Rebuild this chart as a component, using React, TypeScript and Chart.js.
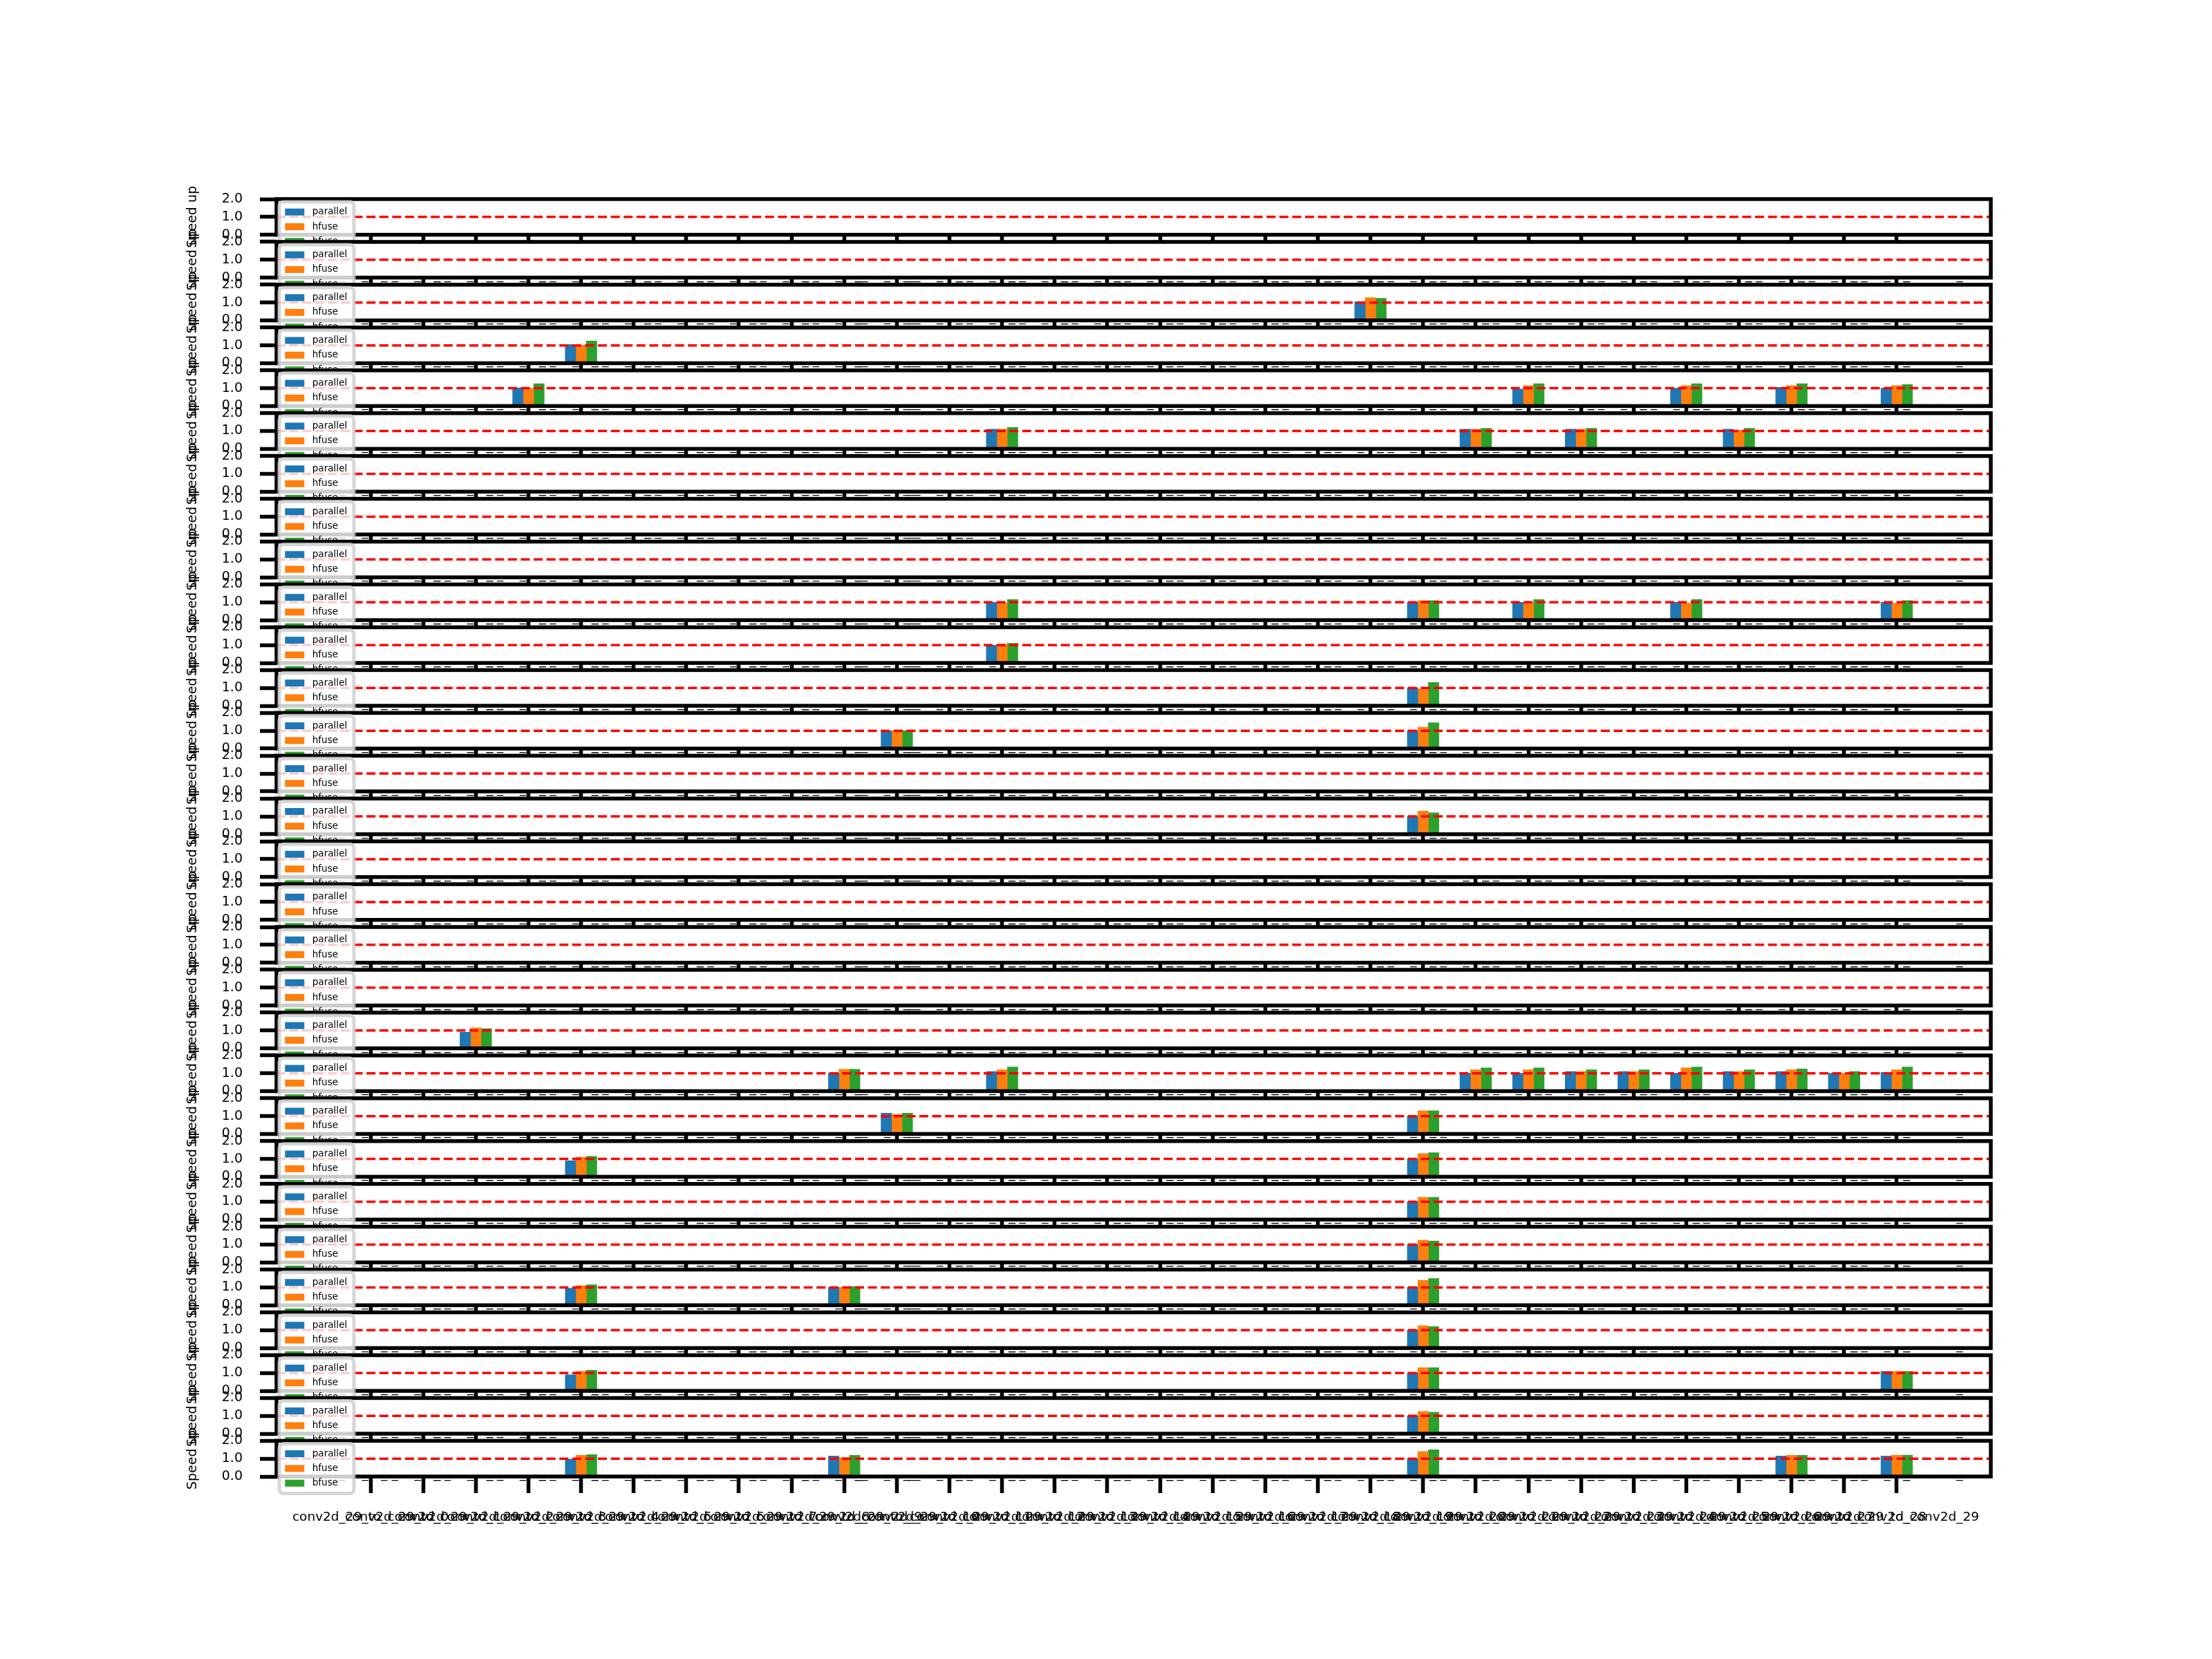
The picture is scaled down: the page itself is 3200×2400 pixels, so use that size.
import React, { useEffect, useRef } from "react";
import { Chart, registerables } from "chart.js";

Chart.register(...registerables);

// ---------------- data ----------------
const seriesNames = ["parallel", "hfuse", "bfuse"];
const categoryLabels = [
  "conv2d_29_to_conv2d_0", "conv2d_29_to_conv2d_1", "conv2d_29_to_conv2d_2", "conv2d_29_to_conv2d_3",
  "conv2d_29_to_conv2d_4", "conv2d_29_to_conv2d_5", "conv2d_29_to_conv2d_6", "conv2d_29_to_conv2d_7",
  "conv2d_29_to_conv2d_8", "conv2d_29_to_conv2d_9", "conv2d_29_to_conv2d_10", "conv2d_29_to_conv2d_11",
  "conv2d_29_to_conv2d_12", "conv2d_29_to_conv2d_13", "conv2d_29_to_conv2d_14", "conv2d_29_to_conv2d_15",
  "conv2d_29_to_conv2d_16", "conv2d_29_to_conv2d_17", "conv2d_29_to_conv2d_18", "conv2d_29_to_conv2d_19",
  "conv2d_29_to_conv2d_20", "conv2d_29_to_conv2d_21", "conv2d_29_to_conv2d_22", "conv2d_29_to_conv2d_23",
  "conv2d_29_to_conv2d_24", "conv2d_29_to_conv2d_25", "conv2d_29_to_conv2d_26", "conv2d_29_to_conv2d_27",
  "conv2d_29_to_conv2d_28", "conv2d_29_to_conv2d_29",
];
const yTickValues = [0, 1, 2];
const baselineSpeedup = 1.0;
const yAxisTitle = "Speed up";

// one entry per bar group: subplot row, category index, three speedups
const barSubplot = [
  2, 3, 4, 4, 4, 4, 4, 5, 5, 5, 5, 9, 9, 9, 9, 9, 10, 11, 12, 12, 14, 19,
  20, 20, 20, 20, 20, 20, 20, 20, 20, 20, 20, 21, 21, 22, 22, 23, 24,
  25, 25, 25, 26, 27, 27, 27, 28, 29, 29, 29, 29, 29,
];
const barCategory = [
  19, 4, 3, 22, 25, 27, 29, 12, 21, 23, 26, 12, 20, 22, 25, 29, 12, 20, 10, 20, 20, 2,
  9, 12, 21, 22, 23, 24, 25, 26, 27, 28, 29, 10, 20, 4, 20, 20, 20,
  4, 9, 20, 20, 4, 20, 29, 20, 4, 9, 20, 27, 29,
];
const parallelSpeedup = [
  1.05, 1.05, 1.02, 0.95, 1.0, 1.05, 1.0, 1.1, 1.1, 1.1, 1.1, 1.0, 1.0, 1.0, 1.0, 1.0, 1.0, 1.0, 1.0, 1.0, 1.0, 0.9,
  1.0, 1.1, 1.0, 1.0, 1.1, 1.1, 1.0, 1.1, 1.1, 1.0, 1.05, 1.17, 1.0, 0.9, 1.0, 1.0, 1.0,
  0.95, 1.0, 1.0, 1.0, 0.9, 1.0, 1.1, 1.0, 0.98, 1.15, 1.0, 1.15, 1.15,
];
const hfuseSpeedup = [
  1.28, 1.01, 1.0, 1.15, 1.15, 1.15, 1.15, 1.1, 1.1, 1.1, 1.05, 0.95, 1.1, 0.95, 0.95, 0.95, 1.05, 0.95, 1.0, 1.2, 1.3, 1.15,
  1.23, 1.2, 1.2, 1.2, 1.1, 1.1, 1.3, 1.1, 1.2, 1.0, 1.2, 1.1, 1.3, 1.1, 1.3, 1.25, 1.25,
  1.1, 1.0, 1.4, 1.25, 1.1, 1.3, 1.1, 1.25, 1.19, 1.06, 1.4, 1.19, 1.2,
];
const bfuseSpeedup = [
  1.24, 1.24, 1.25, 1.25, 1.25, 1.25, 1.2, 1.2, 1.15, 1.15, 1.15, 1.15, 1.1, 1.15, 1.15, 1.1, 1.1, 1.3, 1.0, 1.45, 1.2, 1.1,
  1.23, 1.35, 1.3, 1.3, 1.2, 1.2, 1.35, 1.2, 1.25, 1.1, 1.35, 1.17, 1.3, 1.15, 1.35, 1.25, 1.2,
  1.15, 1.05, 1.5, 1.2, 1.15, 1.3, 1.1, 1.2, 1.23, 1.19, 1.5, 1.19, 1.2,
];
const seriesValues = [parallelSpeedup, hfuseSpeedup, bfuseSpeedup];

// ---------------- layout / style ----------------
const FIG_W = 3200;
const FIG_H = 2400;
const N_ROWS = 30;
const AX_LEFT = 400;
const AX_RIGHT = 2880;
const AX_TOP = 288;
const AX_BOTTOM = 2136;
const HSPACE = 0.2;
const AX_H = (AX_BOTTOM - AX_TOP) / (N_ROWS + (N_ROWS - 1) * HSPACE);
const ROW_PITCH = AX_H * (1 + HSPACE);
const X_MIN = -1.787;
const X_MAX = 30.787;
const Y_MIN = 0;
const Y_MAX = 2;
const BAR_W = 0.2;
const COLORS = ["#1f77b4", "#ff7f0e", "#2ca02c"];
const PAD_T = 40;
const X_AXIS_H = 90;
const Y_AXIS_W = 150;
const CANVAS_H = PAD_T + 52 + X_AXIS_H + 10;
const FONT = "'DejaVu Sans', sans-serif";
const TICK_FONT = 19;
const XTICK_FONT = 18.5;
const LEGEND_FONT = 13.6;
const LINE_W = 5.5;
const TICK_LEN = 24;

const rowIndices = Array.from({ length: N_ROWS }, (_, i) => i);

function rowTop(i: number) {
  return AX_TOP + i * ROW_PITCH;
}

const decorPlugin = {
  id: "mplDecor",
  beforeDraw(chart: any) {
    const { ctx, chartArea: a } = chart;
    ctx.save();
    ctx.fillStyle = "#ffffff";
    ctx.fillRect(a.left, a.top, a.right - a.left, a.bottom - a.top);
    ctx.restore();
  },
  afterDatasetsDraw(chart: any) {
    const { ctx, chartArea: a, scales } = chart;
    const y1 = scales.y.getPixelForValue(baselineSpeedup);
    ctx.save();
    ctx.beginPath();
    ctx.rect(a.left, a.top, a.right - a.left, a.bottom - a.top);
    ctx.clip();
    ctx.strokeStyle = "#ff0000";
    ctx.lineWidth = 3.5;
    ctx.setLineDash([13, 5.6]);
    ctx.beginPath();
    ctx.moveTo(a.left, y1);
    ctx.lineTo(a.right, y1);
    ctx.stroke();
    ctx.restore();
    // spines
    ctx.save();
    ctx.strokeStyle = "#000000";
    ctx.lineWidth = LINE_W;
    ctx.lineJoin = "miter";
    ctx.strokeRect(a.left, a.top, a.right - a.left, a.bottom - a.top);
    ctx.restore();
  },
  afterDraw(chart: any) {
    const { ctx, chartArea: a } = chart;
    // y axis title
    ctx.save();
    ctx.translate(284, (a.top + a.bottom) / 2);
    ctx.rotate(-Math.PI / 2);
    ctx.font = `${TICK_FONT}px ${FONT}`;
    ctx.fillStyle = "#000";
    ctx.textAlign = "center";
    ctx.textBaseline = "alphabetic";
    ctx.fillText(yAxisTitle, 0, 0);
    ctx.restore();
    // legend
    const bx = a.left + 4;
    const by = a.top + 4;
    const bw = 108;
    const bh = 72;
    const r = 6;
    ctx.save();
    ctx.beginPath();
    ctx.moveTo(bx + r, by);
    ctx.lineTo(bx + bw - r, by);
    ctx.arcTo(bx + bw, by, bx + bw, by + r, r);
    ctx.lineTo(bx + bw, by + bh - r);
    ctx.arcTo(bx + bw, by + bh, bx + bw - r, by + bh, r);
    ctx.lineTo(bx + r, by + bh);
    ctx.arcTo(bx, by + bh, bx, by + bh - r, r);
    ctx.lineTo(bx, by + r);
    ctx.arcTo(bx, by, bx + r, by, r);
    ctx.closePath();
    ctx.fillStyle = "rgba(255,255,255,0.8)";
    ctx.fill();
    ctx.strokeStyle = "rgba(204,204,204,0.8)";
    ctx.lineWidth = 5;
    ctx.stroke();
    ctx.font = `${LEGEND_FONT}px ${FONT}`;
    ctx.textAlign = "left";
    ctx.textBaseline = "middle";
    chart.data.datasets.forEach((ds: any, s: number) => {
      const hy = a.top + 13.7 + s * 21.3;
      ctx.fillStyle = ds.backgroundColor;
      ctx.fillRect(a.left + 12.3, hy, 28, 10);
      ctx.fillStyle = "#000";
      ctx.fillText(ds.label, a.left + 51.7, hy + 5);
    });
    ctx.restore();
  },
};

function buildConfig(i: number): any {
  const axTop = rowTop(i);
  const frac = axTop - Math.floor(axTop);
  const pxPerUnit = (AX_RIGHT - AX_LEFT) / (X_MAX - X_MIN);
  const datasets = seriesNames.map((name, s) => ({
    label: name,
    backgroundColor: COLORS[s],
    borderWidth: 0,
    grouped: false,
    barThickness: BAR_W * pxPerUnit,
    data: barSubplot
      .map((row, j) =>
        row === i ? { x: barCategory[j] + (s - 1) * BAR_W, y: seriesValues[s][j] } : null
      )
      .filter((p) => p !== null),
  }));
  const gridOpts = {
    display: true,
    offset: false,
    drawOnChartArea: false,
    drawTicks: true,
    tickLength: TICK_LEN,
    tickWidth: LINE_W,
    tickColor: "#000",
  };
  return {
    type: "bar",
    data: { datasets },
    plugins: [decorPlugin],
    options: {
      animation: false,
      responsive: false,
      devicePixelRatio: 1,
      events: [],
      layout: {
        padding: {
          left: AX_LEFT - Y_AXIS_W,
          right: FIG_W - AX_RIGHT,
          top: PAD_T + frac,
          bottom: CANVAS_H - (PAD_T + frac) - AX_H - X_AXIS_H,
        },
      },
      plugins: { legend: { display: false }, tooltip: { enabled: false }, title: { display: false } },
      scales: {
        x: {
          type: "linear",
          position: "bottom",
          offset: false,
          min: X_MIN,
          max: X_MAX,
          grid: gridOpts,
          border: { display: false },
          afterBuildTicks: (scale: any) => {
            scale.ticks = categoryLabels.map((_, k) => ({ value: k }));
          },
          afterFit: (scale: any) => {
            scale.height = X_AXIS_H;
          },
          ticks: {
            autoSkip: false,
            maxRotation: 0,
            minRotation: 0,
            padding: 24,
            color: "#000",
            font: { family: FONT, size: XTICK_FONT },
            callback: (v: number) => categoryLabels[Math.round(v)] ?? "",
          },
        },
        y: {
          type: "linear",
          position: "left",
          offset: false,
          min: Y_MIN,
          max: Y_MAX,
          grid: gridOpts,
          border: { display: false },
          afterBuildTicks: (scale: any) => {
            scale.ticks = yTickValues.map((v) => ({ value: v }));
          },
          afterFit: (scale: any) => {
            scale.width = Y_AXIS_W;
          },
          ticks: {
            padding: 25,
            color: "#000",
            font: { family: FONT, size: TICK_FONT },
            callback: (v: number) => Number(v).toFixed(1),
          },
        },
      },
    },
  };
}

export default function App() {
  const refs = useRef<(HTMLCanvasElement | null)[]>([]);
  useEffect(() => {
    const charts = rowIndices.map((i) => new Chart(refs.current[i] as HTMLCanvasElement, buildConfig(i)));
    return () => charts.forEach((c) => c.destroy());
  }, []);
  return (
    <div
      style={{
        position: "absolute",
        left: 0,
        top: 0,
        width: FIG_W,
        height: FIG_H,
        background: "#ffffff",
        overflow: "hidden",
      }}
    >
      {rowIndices.map((i) => (
        <canvas
          key={i}
          ref={(el) => {
            refs.current[i] = el;
          }}
          width={FIG_W}
          height={CANVAS_H}
          style={{
            position: "absolute",
            left: 0,
            top: Math.floor(rowTop(i)) - PAD_T,
            width: FIG_W,
            height: CANVAS_H,
          }}
        />
      ))}
    </div>
  );
}
